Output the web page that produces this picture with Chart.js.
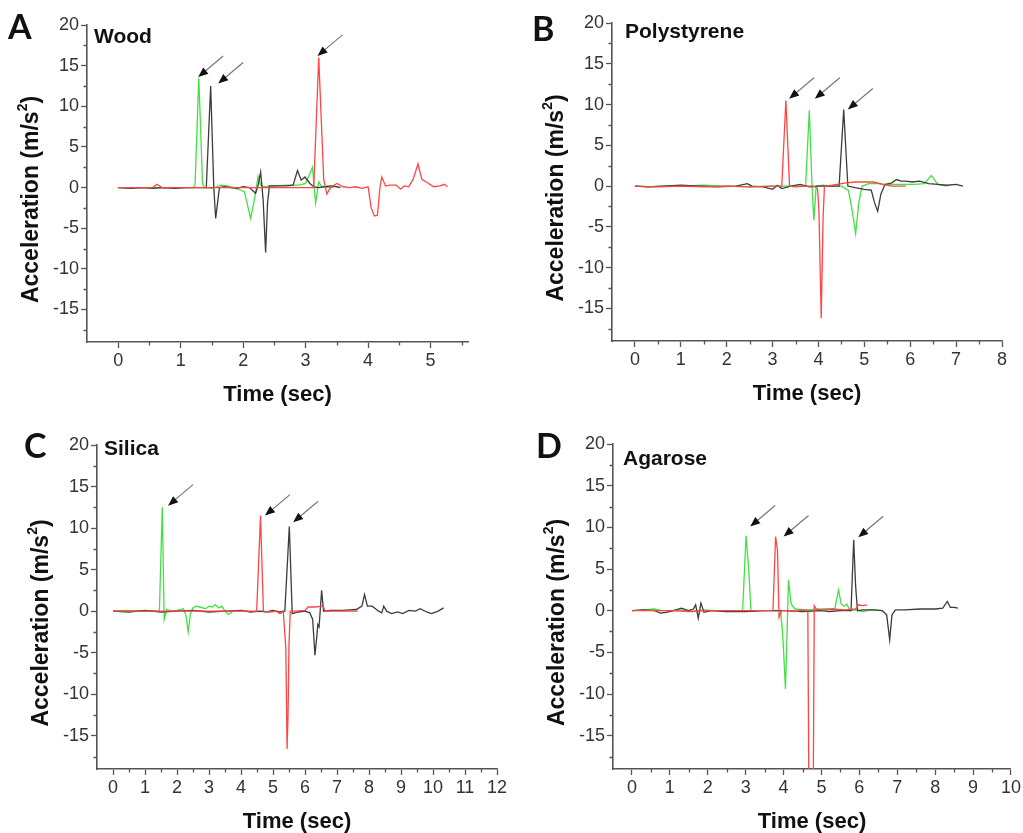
<!DOCTYPE html>
<html>
<head>
<meta charset="utf-8">
<script src="https://cdn.jsdelivr.net/npm/chart.js@4.4.0/dist/chart.umd.min.js"></script>
<style>
  body { margin: 0; background: #fff; }
  .panel { position: absolute; }
</style>
</head>
<body>
<div class="panel" style="left:0;top:0;width:515px;height:415px"><canvas id="chartA"></canvas></div>
<div class="panel" style="left:515px;top:0;width:508px;height:415px"><canvas id="chartB"></canvas></div>
<div class="panel" style="left:0;top:415px;width:515px;height:418px"><canvas id="chartC"></canvas></div>
<div class="panel" style="left:515px;top:415px;width:508px;height:418px"><canvas id="chartD"></canvas></div>
<script>
// tick labels
const yTicks = [-15, -10, -5, 0, 5, 10, 15, 20];
const xTicksA = [0, 1, 2, 3, 4, 5];
const xTicksB = [0, 1, 2, 3, 4, 5, 6, 7, 8];
const xTicksC = [0, 1, 2, 3, 4, 5, 6, 7, 8, 9, 10, 11, 12];
const xTicksD = [0, 1, 2, 3, 4, 5, 6, 7, 8, 9, 10];

// A - Wood
const tA_red = [0, 0.3, 0.55, 0.62, 0.7, 0.9, 1.2, 1.5, 2.0, 2.5, 3.0, 3.13, 3.21, 3.29, 3.34, 3.4, 3.5, 3.6, 3.7, 3.8, 3.9, 4.0, 4.05, 4.1, 4.15, 4.19, 4.22, 4.28, 4.35, 4.45, 4.52, 4.58, 4.65, 4.72, 4.8, 4.86, 4.95, 5.05, 5.15, 5.22, 5.27];
const vA_red = [0, 0, 0, 0.4, 0, 0, 0, 0, 0, 0, 0, 0, 16, 1, -0.8, 0, 0.5, 0.1, 0, 0.1, -0.1, 0.1, -2.5, -3.5, -3.4, 0, 1.3, 0.2, 0.3, 0.3, -0.2, 0.2, 0.1, 1.0, 2.9, 1.0, 0.6, 0.1, 0.2, 0.4, 0.1];
const tA_black = [0, 0.2, 0.4, 0.55, 0.7, 0.9, 1.1, 1.3, 1.41, 1.48, 1.53, 1.56, 1.62, 1.7, 1.8, 1.9, 2.0, 2.1, 2.2, 2.24, 2.28, 2.32, 2.36, 2.39, 2.42, 2.55, 2.7, 2.8, 2.87, 2.93, 2.99, 3.07, 3.13, 3.2, 3.3, 3.4, 3.5, 3.56];
const vA_black = [0, -0.1, 0, -0.1, 0, -0.1, 0, 0, 0, 12.5, 0, -3.8, 0, 0.1, 0, -0.1, 0.1, 0, -0.7, 0.3, 1.9, -1.5, -8, -2, 0.2, 0.2, 0.2, 0.3, 2.1, 0.9, 1.3, 0.5, 0.1, 0, 0.1, 0.2, 0.1, 0];
const tA_green = [0, 0.2, 0.4, 0.6, 0.8, 1.0, 1.2, 1.23, 1.29, 1.35, 1.38, 1.5, 1.65, 1.75, 1.85, 1.95, 2.02, 2.08, 2.12, 2.18, 2.24, 2.28, 2.35, 2.5, 2.7, 2.9, 3.0, 3.11, 3.16, 3.21, 3.26, 3.35, 3.45];
const vA_green = [0, 0, 0, 0, 0, 0, 0, 0.3, 13.5, 0.5, 0, -0.1, 0.3, 0.2, 0, -0.3, -0.5, -2.5, -3.8, -1.5, 1.4, 0.3, 0.1, 0.2, 0.3, 0.3, 0.5, 2.5, -1.9, 0.7, 0.1, 0, 0];
const arrowA_t = [1.28, 1.6, 3.19];
const arrowA_v = [13.6, 12.8, 16.2];

// B - Polystyrene
const tB_red = [0, 0.5, 1.0, 1.5, 2.0, 2.5, 3.0, 3.2, 3.29, 3.37, 3.5, 3.7, 3.9, 3.98, 4.01, 4.06, 4.1, 4.13, 4.3, 4.6, 4.8, 5.0, 5.2, 5.4, 5.6, 5.9];
const vB_red = [0, -0.1, 0, -0.1, 0, -0.1, 0, 0, 10.5, 0, -0.1, 0, 0, -0.3, -3, -16.2, -4, 0, 0.1, 0.4, 0.5, 0.5, 0.5, 0.2, 0, 0];
const tB_black = [0, 0.3, 0.6, 1.0, 1.4, 1.8, 2.2, 2.45, 2.55, 2.8, 3.0, 3.1, 3.2, 3.4, 3.6, 3.8, 4.0, 4.2, 4.45, 4.55, 4.64, 4.8, 5.0, 5.15, 5.22, 5.29, 5.36, 5.45, 5.6, 5.7, 5.8, 5.9, 6.05, 6.2, 6.4, 6.6, 6.8, 7.0, 7.15];
const vB_black = [0, -0.1, 0, 0.1, 0, -0.1, 0, 0.3, 0, -0.1, -0.4, 0.1, -0.3, 0, 0.2, -0.1, 0, 0, 0, 9.4, 0, -0.2, -0.4, -0.5, -2, -3.1, -1, 0.2, 0.4, 0.8, 0.6, 0.6, 0.5, 0.6, 0.3, 0.2, 0.1, 0.2, 0];
const tB_green = [0, 0.3, 0.6, 1.0, 1.5, 2.0, 2.5, 3.0, 3.5, 3.72, 3.8, 3.86, 3.9, 3.95, 4.1, 4.3, 4.5, 4.65, 4.72, 4.81, 4.88, 4.95, 5.1, 5.3, 5.5, 5.8, 6.1, 6.3, 6.46, 6.6, 6.8];
const vB_green = [0, -0.1, 0, 0, 0.1, 0, -0.1, 0, 0, 0, 9.3, 0, -4.2, 0, 0.1, 0, 0, -0.5, -2.5, -5.8, -2, 0, 0.3, 0.3, 0.2, 0.2, 0.2, 0.3, 1.3, 0.2, 0];
const arrowB_t = [3.36, 3.92, 4.64];
const arrowB_v = [10.7, 10.7, 9.4];

// C - Silica
const tC_red = [0, 1, 2, 3, 4, 4.49, 4.61, 4.7, 4.9, 5.1, 5.22, 5.32, 5.4, 5.44, 5.47, 5.5, 5.54, 5.7, 6.0, 6.1, 6.3, 6.57, 6.62, 7.0, 7.65];
const vC_red = [0, 0, 0, 0, 0, 0, 11.5, 0, -0.1, 0, -0.3, 0, -4.4, -16.6, -12.4, -4, 0, 0, 0.1, 0.5, 0.5, 0.6, 0, 0, 0];
const tC_black = [0, 0.5, 1, 1.5, 2, 2.5, 3, 3.5, 4, 4.3, 4.6, 4.8, 5, 5.2, 5.37, 5.51, 5.6, 5.8, 6.0, 6.15, 6.24, 6.31, 6.37, 6.4, 6.44, 6.52, 6.58, 6.8, 7.2, 7.6, 7.78, 7.86, 7.95, 8.1, 8.3, 8.4, 8.46, 8.55, 8.7, 8.9, 9.05, 9.25, 9.45, 9.6, 9.8, 9.95, 10.1, 10.2, 10.33];
const vC_black = [0, -0.1, 0.1, -0.1, 0, 0.1, -0.1, 0, 0.1, -0.1, 0, -0.1, 0.1, -0.1, 0, 10.2, -0.3, -0.1, 0, -0.2, -1.0, -5.3, -3, -1.6, -1.9, 2.5, 0, 0.1, 0.1, 0.2, 0.6, 2.0, 0.6, 0.6, 0, -0.2, 0.6, 0, -0.3, -0.1, -0.3, 0.1, 0, 0.3, -0.1, -0.3, -0.1, 0.1, 0.4];
const tC_green = [0, 0.4, 0.8, 1.2, 1.45, 1.54, 1.6, 1.68, 1.8, 2.0, 2.2, 2.28, 2.35, 2.42, 2.5, 2.6, 2.7, 2.8, 2.9, 3.0, 3.1, 3.2, 3.3, 3.4, 3.5, 3.6, 3.75];
const vC_green = [0, 0.1, 0, 0, 0, 12.5, -1, 0.2, 0, 0.1, 0.3, -0.5, -2.5, -0.3, 0.4, 0.6, 0.5, 0.4, 0.3, 0.6, 0.5, 0.8, 0.4, 0.6, 0, -0.4, 0];
const arrowC_t = [1.72, 4.75, 5.63];
const arrowC_v = [12.7, 11.5, 10.7];

// D - Agarose
const tD_red = [0, 0.5, 1, 1.5, 2, 2.5, 3, 3.5, 3.72, 3.79, 3.84, 3.88, 3.95, 4.1, 4.3, 4.5, 4.64, 4.67, 4.78, 4.81, 4.86, 5.0, 5.3, 5.6, 5.9, 5.98, 6.1, 6.2];
const vD_red = [0, 0, 0, -0.1, 0, 0, 0, 0, 0, 8.9, 7.2, -0.8, 0, 0, -0.1, 0.1, 0, -24, -24, 0.6, 0.2, 0.1, 0.2, 0.1, 0.2, 0.7, 0.6, 0.7];
const tD_black = [0, 0.3, 0.6, 0.75, 0.9, 1.1, 1.3, 1.5, 1.62, 1.68, 1.75, 1.82, 1.9, 2.1, 2.5, 3, 3.5, 4, 4.5, 5, 5.2, 5.5, 5.78, 5.85, 5.9, 5.95, 6.1, 6.4, 6.6, 6.72, 6.8, 6.86, 6.95, 7.2, 7.6, 8.0, 8.2, 8.32, 8.4, 8.5, 8.6];
const vD_black = [0, 0.1, 0, -0.3, -0.2, 0, 0.3, 0, 0.2, 0.7, -0.9, 0.9, -0.2, 0, -0.1, -0.1, 0, 0, -0.1, 0, -0.1, 0, 0, 8.5, 3, 0, 0.1, 0.1, 0, -0.5, -3.5, -0.5, 0.1, 0.1, 0.2, 0.2, 0.3, 1.1, 0.4, 0.4, 0.3];
const tD_green = [0, 0.3, 0.6, 0.8, 1.0, 1.3, 1.6, 1.9, 2.2, 2.5, 2.8, 2.92, 3.01, 3.08, 3.14, 3.4, 3.7, 3.92, 3.98, 4.05, 4.09, 4.13, 4.2, 4.3, 4.6, 5.0, 5.35, 5.45, 5.52, 5.6, 5.67, 5.75, 5.9, 6.1, 6.3, 6.6];
const vD_green = [0, 0.1, 0.2, 0, 0, 0.1, -0.1, 0.1, 0, -0.1, 0, 0, 9, 5, 0, 0, 0, 0, -3, -9.4, -3, 3.7, 0.8, 0.2, 0.1, 0.2, 0.2, 2.5, 0.8, 0.5, 0.8, 0, 0.1, -0.1, 0.1, 0];
const arrowD_t = [3.12, 4.0, 5.97];
const arrowD_v = [10.1, 8.9, 8.8];

const RED = '#ff4545', BLACK = '#3c3c3c', GREEN = '#44e044';
const AXIS = '#555';
const FONT = '"Liberation Sans", Arial, sans-serif';

function pts(t, v) {
  return t.map((x, i) => ({ x: x, y: v[i] }));
}

// panel letter, name, axis titles, minor ticks and arrows
const panelDeco = {
  id: 'panelDeco',
  afterDraw(chart, args, o) {
    const { ctx, chartArea: a, scales: { x, y } } = chart;
    ctx.save();

    // minor ticks
    ctx.strokeStyle = AXIS;
    ctx.lineWidth = 1.3;
    ctx.beginPath();
    o.xTicks.forEach(v => {
      const m = v + 0.5;
      if (m <= x.max) {
        const px = Math.round(x.getPixelForValue(m)) + 0.5;
        ctx.moveTo(px, a.bottom); ctx.lineTo(px, a.bottom + 3.5);
      }
    });
    yTicks.forEach(v => {
      const m = v - 2.5;
      if (m >= y.min) {
        const py = Math.round(y.getPixelForValue(m)) + 0.5;
        ctx.moveTo(a.left, py); ctx.lineTo(a.left - 3.5, py);
      }
    });
    ctx.stroke();

    // arrows
    o.arrowT.forEach((t, i) => {
      const tx = x.getPixelForValue(t), ty = y.getPixelForValue(o.arrowV[i]);
      const sx = tx + 25, sy = ty - 21;
      const ang = Math.atan2(ty - sy, tx - sx);
      ctx.strokeStyle = '#777';
      ctx.lineWidth = 1.2;
      ctx.beginPath();
      ctx.moveTo(sx, sy);
      ctx.lineTo(tx - 7 * Math.cos(ang), ty - 7 * Math.sin(ang));
      ctx.stroke();
      ctx.fillStyle = '#111';
      ctx.beginPath();
      ctx.moveTo(tx, ty);
      ctx.lineTo(tx - 10 * Math.cos(ang) + 4 * Math.sin(ang), ty - 10 * Math.sin(ang) - 4 * Math.cos(ang));
      ctx.lineTo(tx - 10 * Math.cos(ang) - 4 * Math.sin(ang), ty - 10 * Math.sin(ang) + 4 * Math.cos(ang));
      ctx.closePath();
      ctx.fill();
    });

    // panel letter and material name
    ctx.fillStyle = '#111';
    ctx.textBaseline = 'alphabetic';
    ctx.textAlign = 'left';
    ctx.font = 'bold 34px Lato, "Open Sans", sans-serif';
    ctx.fillText(o.letter, o.letterPos[0], o.letterPos[1]);
    ctx.font = 'bold 21px ' + FONT;
    ctx.fillText(o.name, o.namePos[0], o.namePos[1]);

    // x title
    ctx.font = 'bold 22px ' + FONT;
    ctx.textAlign = 'center';
    ctx.fillText('Time (sec)', (a.left + a.right) / 2, a.bottom + 59);

    // y title with superscript
    const main = 'Acceleration (m/s', sup = '2', end = ')';
    ctx.font = 'bold 23px ' + FONT;
    const w1 = ctx.measureText(main).width, w3 = ctx.measureText(end).width;
    ctx.font = 'bold 14px ' + FONT;
    const w2 = ctx.measureText(sup).width;
    const total = w1 + w2 + w3;
    ctx.translate(a.left - 49, (a.top + a.bottom) / 2 + 16);
    ctx.rotate(-Math.PI / 2);
    ctx.textAlign = 'left';
    ctx.font = 'bold 23px ' + FONT;
    ctx.fillText(main, -total / 2, 0);
    ctx.fillText(end, -total / 2 + w1 + w2, 0);
    ctx.font = 'bold 14px ' + FONT;
    ctx.fillText(sup, -total / 2 + w1, -11);
    ctx.restore();
  }
};

function makePanel(id, p) {
  new Chart(document.getElementById(id), {
    type: 'line',
    data: {
      datasets: [
        { data: pts(p.red[0], p.red[1]), borderColor: RED },
        { data: pts(p.black[0], p.black[1]), borderColor: BLACK },
        { data: pts(p.green[0], p.green[1]), borderColor: GREEN }
      ].map(d => Object.assign(d, { borderWidth: 1.3, pointRadius: 0, tension: 0, fill: false }))
    },
    options: {
      responsive: true,
      maintainAspectRatio: false,
      animation: false,
      events: [],
      layout: { padding: { left: 0, top: p.top, right: p.right, bottom: 0 } },
      scales: {
        x: {
          type: 'linear',
          min: -0.5,
          max: p.xMax,
          afterBuildTicks: s => { s.ticks = p.xTicks.map(v => ({ value: v })); },
          afterFit: s => { s.height = p.xAxisH; },
          border: { display: true, color: AXIS, width: 1.6 },
          grid: { drawOnChartArea: false, drawTicks: true, tickLength: 6, tickColor: AXIS, tickWidth: 1.3 },
          ticks: { color: '#333', font: { family: FONT, size: 18 }, padding: 2, maxRotation: 0, autoSkip: false }
        },
        y: {
          min: -19,
          max: 20,
          afterBuildTicks: s => { s.ticks = yTicks.map(v => ({ value: v })); },
          afterFit: s => { s.width = p.yAxisW; },
          border: { display: true, color: AXIS, width: 1.6 },
          grid: { drawOnChartArea: false, drawTicks: true, tickLength: 6, tickColor: AXIS, tickWidth: 1.3 },
          ticks: { color: '#333', font: { family: FONT, size: 18 }, padding: 2, autoSkip: false }
        }
      },
      plugins: {
        legend: { display: false },
        tooltip: { enabled: false },
        panelDeco: {
          letter: p.letter, name: p.name, letterPos: p.letterPos, namePos: p.namePos,
          xTicks: p.xTicks, arrowT: p.arrowT, arrowV: p.arrowV
        }
      }
    },
    plugins: [panelDeco]
  });
}

makePanel('chartA', {
  letter: 'A', name: 'Wood', letterPos: [8, 39], namePos: [94, 43],
  red: [tA_red, vA_red], black: [tA_black, vA_black], green: [tA_green, vA_green],
  arrowT: arrowA_t, arrowV: arrowA_v, xTicks: xTicksA, xMax: 5.6,
  top: 25, right: 47, yAxisW: 87, xAxisH: 73
});
makePanel('chartB', {
  letter: 'B', name: 'Polystyrene', letterPos: [17, 41], namePos: [110, 38],
  red: [tB_red, vB_red], black: [tB_black, vB_black], green: [tB_green, vB_green],
  arrowT: arrowB_t, arrowV: arrowB_v, xTicks: xTicksB, xMax: 8,
  top: 23, right: 21, yAxisW: 97, xAxisH: 74
});
makePanel('chartC', {
  letter: 'C', name: 'Silica', letterPos: [24, 43], namePos: [104, 40],
  red: [tC_red, vC_red], black: [tC_black, vC_black], green: [tC_green, vC_green],
  arrowT: arrowC_t, arrowV: arrowC_v, xTicks: xTicksC, xMax: 12,
  top: 30, right: 18, yAxisW: 97, xAxisH: 64
});
makePanel('chartD', {
  letter: 'D', name: 'Agarose', letterPos: [21, 43], namePos: [108, 50],
  red: [tD_red, vD_red], black: [tD_black, vD_black], green: [tD_green, vD_green],
  arrowT: arrowD_t, arrowV: arrowD_v, xTicks: xTicksD, xMax: 10,
  top: 29, right: 10, yAxisW: 98, xAxisH: 64
});
</script>
</body>
</html>
